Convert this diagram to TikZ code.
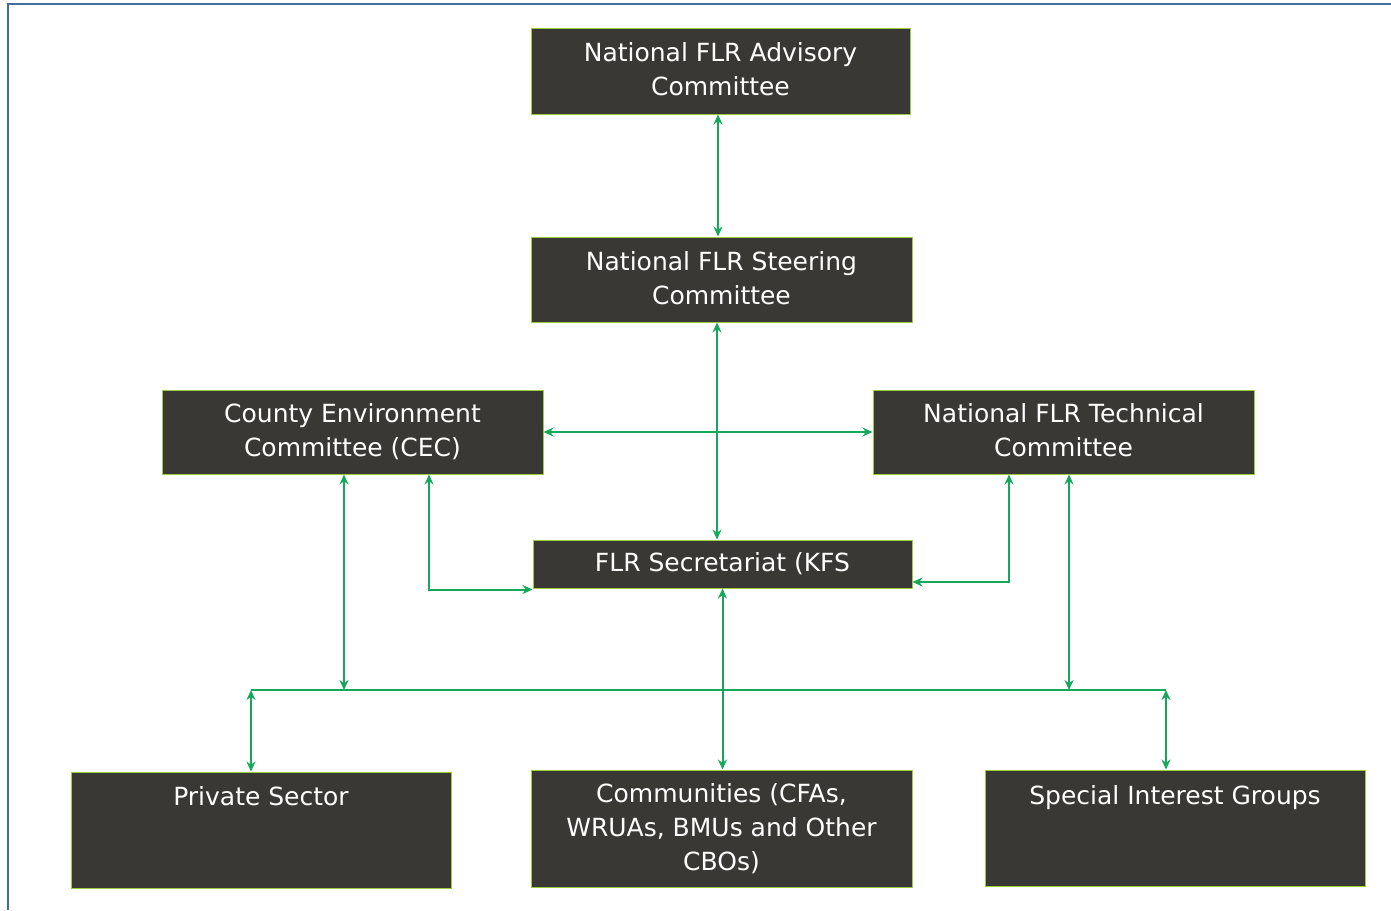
\documentclass[tikz,border=0pt]{standalone}
\usepackage{fontspec}
\setmainfont{DejaVu Sans}
\usetikzlibrary{arrows.meta}
\definecolor{boxfill}{HTML}{3A3834}
\definecolor{boxedge}{HTML}{9CCB3C}
\definecolor{linkgreen}{HTML}{16A85A}
\definecolor{frameblue}{HTML}{3F6E9E}
\tikzset{
  orgbox/.style={draw=boxedge, line width=1pt, fill=boxfill, text=white,
    align=center, inner sep=0pt, font=\fontsize{25}{34}\selectfont},
  link/.style={draw=linkgreen, line width=2pt},
  bilink/.style={link, {Stealth[length=10pt,width=9pt]}-{Stealth[length=10pt,width=9pt]}},
  toplabel/.style={text=white, font=\fontsize{25}{34}\selectfont, anchor=north, inner sep=0pt}
}
\begin{document}
\begin{tikzpicture}[x=1pt,y=-1pt]
\useasboundingbox (0,0) rectangle (1391,910);
\draw[frameblue, line width=2pt] (8,910) -- (8,4) -- (1391,4);

\node[orgbox, minimum width=379pt, minimum height=86pt] (adv) at (720.5,71) {National FLR Advisory\\Committee\rule[-4pt]{0pt}{1pt}};
\node[orgbox, minimum width=381pt, minimum height=85pt] (steer) at (721.5,279.5) {National FLR Steering\\Committee\rule[-4pt]{0pt}{1pt}};
\node[orgbox, minimum width=381pt, minimum height=84pt] (cec) at (352.5,432) {County Environment\\Committee (CEC)\rule[-3pt]{0pt}{1pt}};
\node[orgbox, minimum width=381pt, minimum height=84pt] (tech) at (1063.5,432) {National FLR Technical\\Committee\rule[-4pt]{0pt}{1pt}};
\node[orgbox, minimum width=379pt, minimum height=48pt] (sec) at (722.5,564) {FLR Secretariat (KFS\rule[-2pt]{0pt}{1pt}};
\node[orgbox, minimum width=380pt, minimum height=116pt,
  label={[toplabel, yshift=-15pt]north:Private Sector}] (priv) at (261,830) {};
\node[orgbox, minimum width=381pt, minimum height=117pt] (comm) at (721.5,828.5) {Communities (CFAs,\\WRUAs, BMUs and Other\\CBOs)};
\node[orgbox, minimum width=380pt, minimum height=116pt,
  label={[toplabel, yshift=-16pt]north:Special Interest Groups}] (sig) at (1175,828) {};

\coordinate (busL) at (251,690);
\coordinate (busR) at (1166,690);

% vertical trunk
\draw[bilink] ([xshift=-2.5pt]adv.south) -- ([xshift=-2.5pt]adv.south |- steer.north);
\draw[bilink] ([xshift=-4.5pt]steer.south) -- ([xshift=-4.5pt]steer.south |- sec.north);
\draw[bilink] (cec.east) -- (tech.west);
% CEC to secretariat
\draw[bilink] ([xshift=76.5pt]cec.south) |- ([yshift=-1pt]sec.south west);
% Technical to secretariat
\draw[bilink] ([xshift=-54.5pt]tech.south) |- ([yshift=-18pt]sec.east);
% to bus
\draw[bilink] ([xshift=-8.5pt]cec.south) -- ([xshift=-8.5pt]cec.south |- busL);
\draw[bilink] ([xshift=5.5pt]tech.south) -- ([xshift=5.5pt]tech.south |- busR);
\draw[link] (busL) -- (busR);
\draw[bilink] (busL) -- (busL |- priv.north);
\draw[bilink] (busR) -- (busR |- sig.north);
\draw[bilink] (sec.south) -- (sec.south |- comm.north);
\end{tikzpicture}
\end{document}
